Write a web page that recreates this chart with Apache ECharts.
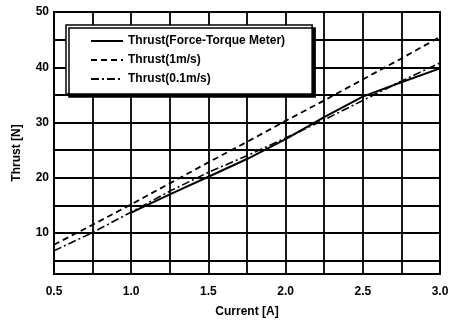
<!DOCTYPE html>
<html>
<head>
<meta charset="utf-8">
<script src="https://cdn.jsdelivr.net/npm/echarts@6/dist/echarts.min.js"></script>
<style>html,body{margin:0;padding:0;background:#fff;}#c{width:453px;height:323px;}</style>
</head>
<body>
<div id="c"></div>
<script>
const current = [0.5, 0.75, 1.0, 1.25, 1.5, 1.75, 2.0, 2.25, 2.5, 2.75, 3.0];
const thrustMeter = [null, null, 13.7, 17.0, 20.2, 23.4, 27.0, 31.0, 34.7, 37.3, 39.8];
const thrust1 = [7.9, 11.5, 15.2, 19.0, 22.8, 26.5, 30.3, 34.0, 37.8, 41.6, 45.5];
const thrust01 = [6.8, 10.1, 13.8, 17.6, 21.0, 24.0, 27.2, 30.5, 34.0, 37.5, 40.8];
const yTicks = [5, 10, 15, 20, 25, 30, 35, 40, 45, 50];
const yLabels = [10, 20, 30, 40, 50];
const xLabels = [0.5, 1.0, 1.5, 2.0, 2.5, 3.0];
const names = ['Thrust(Force-Torque Meter)', 'Thrust(1m/s)', 'Thrust(0.1m/s)'];

const pairs = arr => current.map((x, i) => [x, arr[i]]);
const font = 'Liberation Sans, Arial, sans-serif';

const chart = echarts.init(document.getElementById('c'), null, {renderer: 'canvas'});
chart.setOption({
  animation: false,
  backgroundColor: '#fff',
  grid: {left: 54, right: 13, top: 12, bottom: 43, show: true, borderColor: '#000', borderWidth: 2, backgroundColor: 'transparent'},
  legend: {
    orient: 'vertical', left: 66, top: 25,
    data: names,
    itemWidth: 32, itemHeight: 14, itemGap: 7,
    padding: [10, 27, 9, 24],
    backgroundColor: '#fff', borderColor: '#000', borderWidth: 1.5,
    shadowColor: '#000', shadowBlur: 0, shadowOffsetX: 3, shadowOffsetY: 3,
    itemStyle: {opacity: 0, borderWidth: 0},
    textStyle: {fontFamily: font, fontSize: 12, fontWeight: 'bold', color: '#000'}
  },
  xAxis: {
    type: 'value', min: 0.5, max: 3.0, interval: 0.25,
    name: 'Current [A]', nameLocation: 'middle', nameGap: 32,
    nameTextStyle: {fontFamily: font, fontSize: 12, fontWeight: 'bold', color: '#000'},
    axisLine: {show: true, lineStyle: {color: '#000', width: 2}},
    axisTick: {show: false},
    axisLabel: {customValues: xLabels, formatter: v => v.toFixed(1), margin: 12, fontFamily: font, fontSize: 12, fontWeight: 'bold', color: '#000'},
    splitLine: {show: true, lineStyle: {color: '#000', width: 1.8}}
  },
  yAxis: {
    type: 'value', min: 2.6, max: 50,
    name: 'Thrust [N]', nameLocation: 'middle', nameGap: 31, nameRotate: 90,
    nameTextStyle: {fontFamily: font, fontSize: 12, fontWeight: 'bold', color: '#000', padding: [0, 20, 0, 0]},
    axisLine: {show: true, lineStyle: {color: '#000', width: 2}},
    axisTick: {show: false, customValues: yTicks},
    axisLabel: {customValues: yLabels, margin: 5, fontFamily: font, fontSize: 12, fontWeight: 'bold', color: '#000'},
    splitLine: {show: true, lineStyle: {color: '#000', width: 1.8}}
  },
  series: [
    {name: names[0], type: 'line', data: pairs(thrustMeter), symbol: 'none', connectNulls: false,
     lineStyle: {color: '#000', width: 2, type: 'solid'}, itemStyle: {color: '#000'}},
    {name: names[1], type: 'line', data: pairs(thrust1), symbol: 'none',
     lineStyle: {color: '#000', width: 1.8, type: [6, 4]}, itemStyle: {color: '#000'}},
    {name: names[2], type: 'line', data: pairs(thrust01), symbol: 'none',
     lineStyle: {color: '#000', width: 1.6, type: [8, 3, 2, 3]}, itemStyle: {color: '#000'}}
  ]
});
</script>
</body>
</html>
